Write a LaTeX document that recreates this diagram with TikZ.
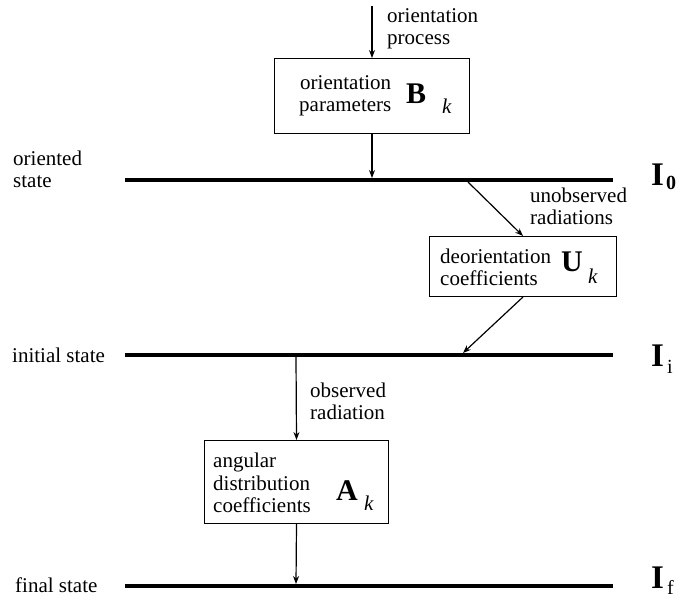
\documentclass[tikz,border=0pt]{standalone}
\usepackage{fontspec}
\setmainfont{Liberation Serif}
\usetikzlibrary{arrows.meta}
\tikzset{
  txt/.style={anchor=base west, inner sep=0pt, font=\fontsize{21pt}{22pt}\selectfont},
  bigsym/.style={anchor=base west, inner sep=0pt, font=\fontsize{30pt}{30pt}\selectfont\bfseries},
  subk/.style={anchor=base west, inner sep=0pt, font=\fontsize{21pt}{22pt}\selectfont\itshape},
  lvlsym/.style={anchor=base west, inner sep=0pt, font=\fontsize{33pt}{33pt}\selectfont\bfseries},
  lvlsub/.style={anchor=base west, inner sep=0pt, font=\fontsize{20pt}{20pt}\selectfont},
  level/.style={line width=4pt},
  arr/.style={-{Stealth[length=8pt,width=6pt]}, line width=1.2pt},
  box/.style={draw, line width=1pt, inner sep=0pt, anchor=north west}
}
\begin{document}
\begin{tikzpicture}[x=1pt,y=-1pt]
\useasboundingbox (0,0) rectangle (678,598);
% level lines
\coordinate (l0a) at (125,180); \coordinate (l0b) at (613,180);
\coordinate (l1a) at (125,355); \coordinate (l1b) at (613,355);
\coordinate (l2a) at (125,586); \coordinate (l2b) at (613,586);
\draw[level] (l0a) -- (l0b);
\draw[level] (l1a) -- (l1b);
\draw[level] (l2a) -- (l2b);
% left labels
\node[txt] (or1) at (13,165) {oriented};
\node[txt] (or2) at (13,187) {state};
\node[txt] (ini) at (12,362) {initial state};
\node[txt] (fin) at (15,592) {final state};
% right labels
\node[lvlsym] (I0) at (651,185) {I};
\node[lvlsub, font=\fontsize{20pt}{20pt}\selectfont\bfseries] (I0s) at (666,189) {0};
\node[lvlsym] (Ii) at (651,366) {I};
\node[lvlsub] (Iis) at (667,373) {i};
\node[lvlsym] (If) at (651,588) {I};
\node[lvlsub] (Ifs) at (667,594) {f};
% boxes
\node[box, minimum width=195pt, minimum height=75pt] (bB) at (274,58) {};
\node[box, minimum width=187pt, minimum height=60pt] (bU) at (429,236) {};
\node[box, minimum width=184pt, minimum height=83pt] (bA) at (204,440) {};
% box B text
\node[txt] (tB1) at (300,89) {orientation};
\node[txt] (tB2) at (299,111) {parameters};
\node[bigsym] (sB) at (406,103) {B};
\node[subk] (kB) at (442,113) {k};
% box U text
\node[txt] (tU1) at (440,263) {deorientation};
\node[txt] (tU2) at (440,285) {coefficients};
\node[bigsym] (sU) at (561,271) {U};
\node[subk] (kU) at (588,283) {k};
% box A text
\node[txt] (tA1) at (213,467) {angular};
\node[txt] (tA2) at (213,490) {distribution};
\node[txt] (tA3) at (213,512) {coefficients};
\node[bigsym] (sA) at (336,500) {A};
\node[subk] (kA) at (364,510) {k};
% arrow labels
\node[txt] (p1) at (387,22) {orientation};
\node[txt] (p2) at (387,44) {process};
\node[txt] (u1) at (530,202) {unobserved};
\node[txt] (u2) at (530,224) {radiations};
\node[txt] (o1) at (310,397) {observed};
\node[txt] (o2) at (310,419) {radiation};
% connectors
\coordinate (start) at (372,6);
\coordinate (hitB) at (372,178);
\coordinate (from0) at (468,182);
\coordinate (hitU) at (463,353);
\coordinate (from1) at (296,357);
\coordinate (hitA) at (296,584);
\draw[arr] (start) -- (bB.north);
\draw[arr] (bB.south) -- (hitB);
\draw[arr] (from0) -- (bU.north);
\draw[arr] (bU.south) -- (hitU);
\draw[arr] (from1) -- (bA.north);
\draw[arr] (bA.south) -- (hitA);
\end{tikzpicture}
\end{document}
